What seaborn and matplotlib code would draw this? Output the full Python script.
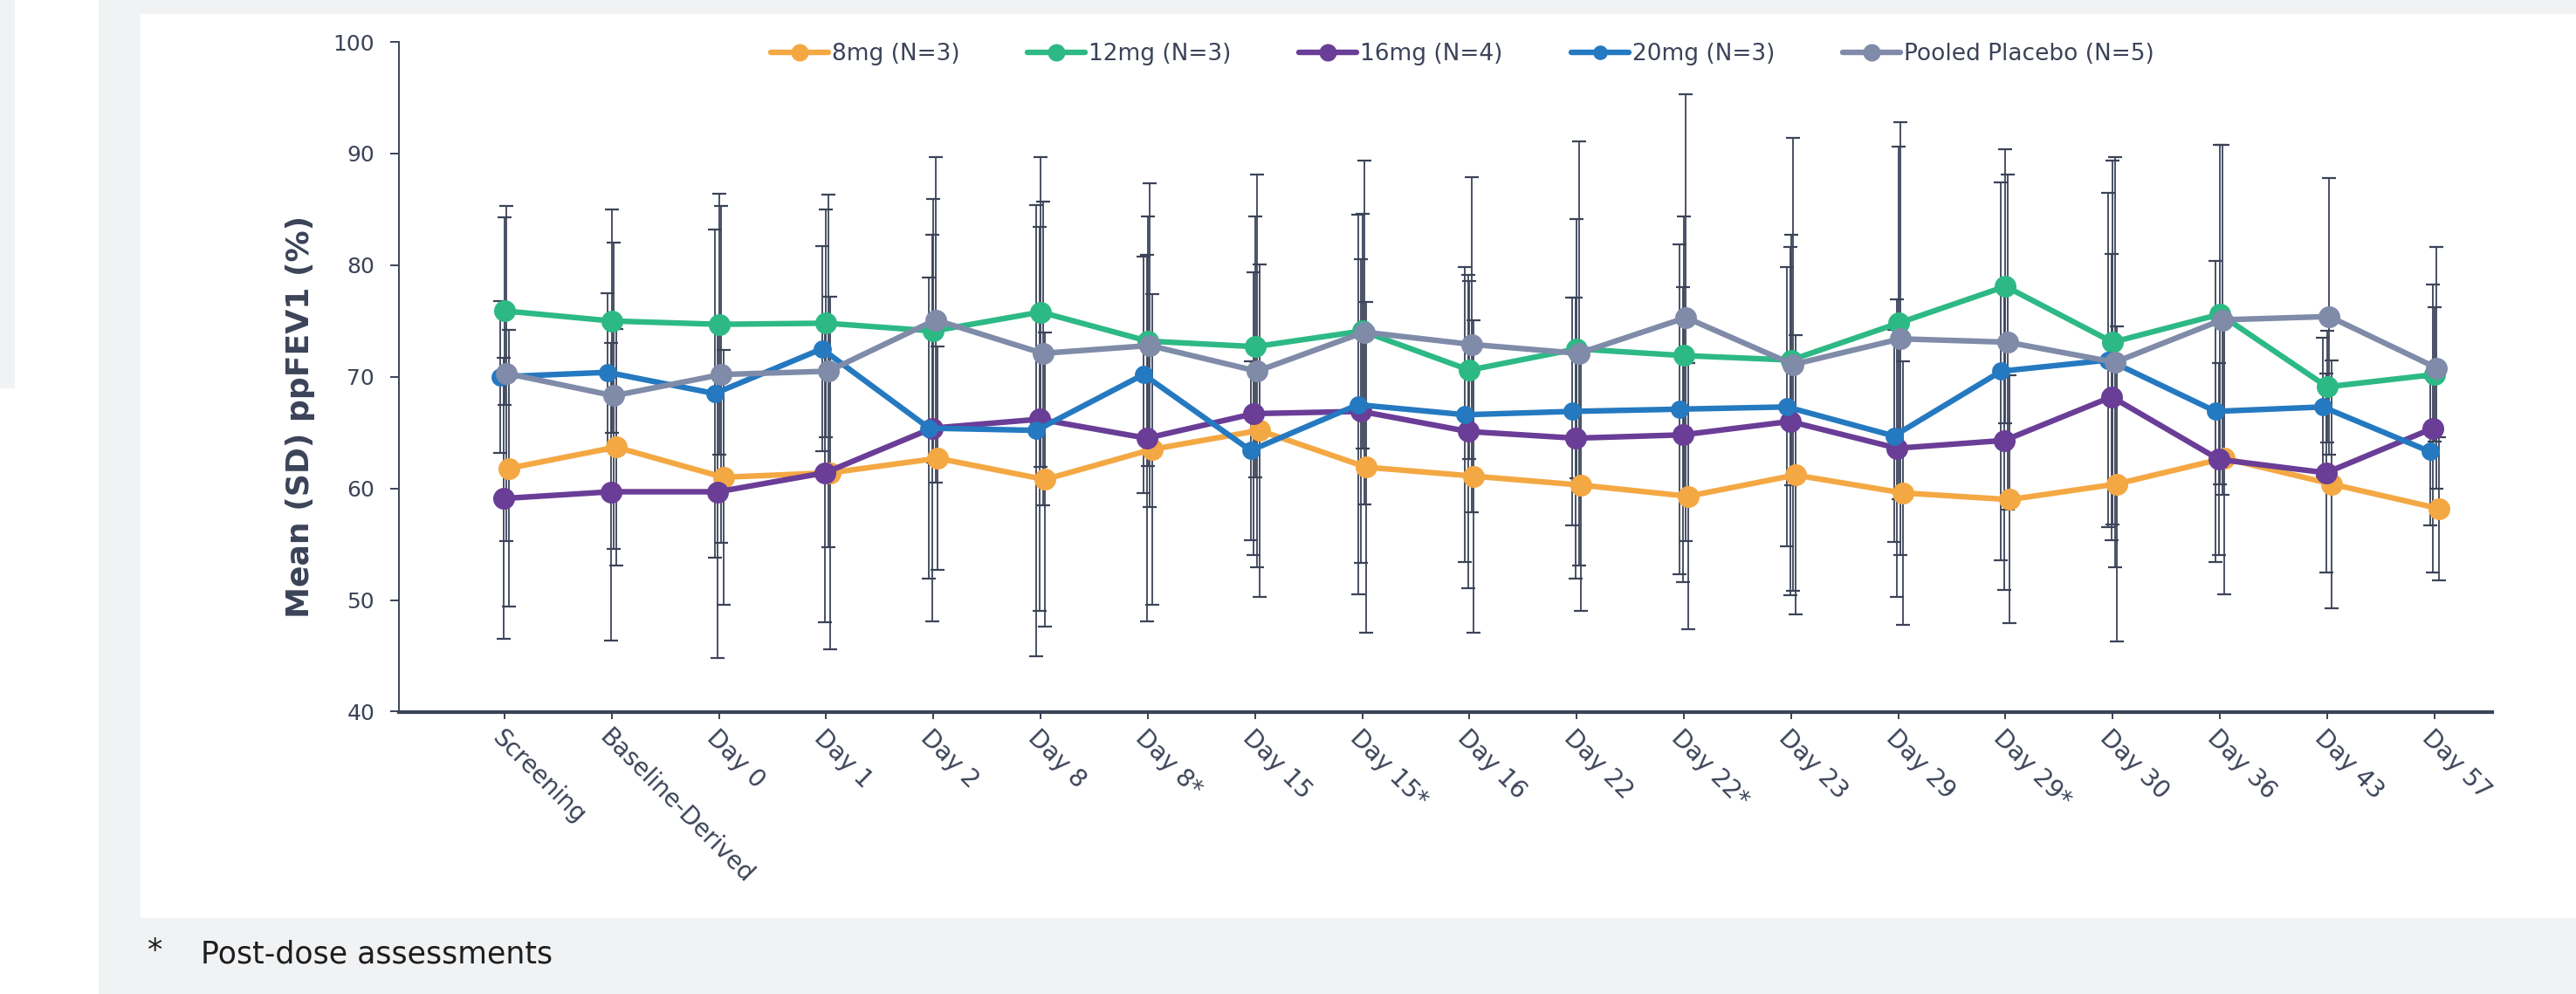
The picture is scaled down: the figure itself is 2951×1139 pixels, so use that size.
import matplotlib
matplotlib.use("Agg")
import matplotlib.pyplot as plt
from matplotlib.patches import Rectangle
import numpy as np
import pandas as pd
import seaborn as sns

# ---- data -----------------------------------------------------------------
categories = ["Screening", "Baseline-Derived", "Day 0", "Day 1", "Day 2", "Day 8",
              "Day 8*", "Day 15", "Day 15*", "Day 16", "Day 22", "Day 22*",
              "Day 23", "Day 29", "Day 29*", "Day 30", "Day 36", "Day 43", "Day 57"]

group_labels = ["8mg (N=3)", "12mg (N=3)", "16mg (N=4)", "20mg (N=3)",
                "Pooled Placebo (N=5)"]

mean_8mg = [61.8, 63.7, 61.0, 61.4, 62.7, 60.8, 63.5, 65.2, 61.9, 61.1,
            60.3, 59.3, 61.2, 59.6, 59.0, 60.4, 62.7, 60.4, 58.2]
sd_8mg = [12.4, 10.6, 11.4, 15.8, 10.0, 13.2, 13.9, 14.9, 14.8, 14.0,
          11.3, 11.9, 12.5, 11.8, 11.1, 14.1, 12.2, 11.1, 6.4]

mean_12mg = [75.9, 75.0, 74.7, 74.8, 74.1, 75.8, 73.2, 72.7, 74.1, 70.6,
             72.5, 71.9, 71.5, 74.8, 78.1, 73.1, 75.6, 69.1, 70.2]
sd_12mg = [8.4, 10.0, 11.7, 10.2, 11.8, 13.9, 11.2, 11.7, 10.5, 8.0,
           11.6, 12.5, 11.2, 15.8, 12.3, 16.3, 15.2, 5.0, 6.0]

mean_16mg = [59.1, 59.7, 59.7, 61.4, 65.4, 66.2, 64.5, 66.7, 66.9, 65.1,
             64.5, 64.8, 66.0, 63.6, 64.3, 68.2, 62.6, 61.4, 65.4]
sd_16mg = [12.6, 13.3, 14.9, 13.4, 17.3, 17.2, 16.4, 12.7, 13.6, 14.0,
           12.6, 13.2, 15.6, 13.3, 13.4, 12.8, 8.6, 8.9, 12.9]

mean_20mg = [70.0, 70.4, 68.5, 72.5, 65.4, 65.2, 70.2, 63.4, 67.5, 66.6,
             66.9, 67.1, 67.3, 64.7, 70.5, 71.5, 66.9, 67.3, 63.3]
sd_20mg = [6.8, 7.1, 14.7, 9.2, 13.5, 20.2, 10.6, 8.0, 17.0, 13.2,
           10.2, 14.8, 12.5, 9.5, 16.9, 15.0, 13.5, 6.2, 6.6]

mean_pbo = [70.3, 68.3, 70.2, 70.5, 75.1, 72.1, 72.8, 70.5, 74.0, 72.9,
            72.1, 75.3, 71.1, 73.4, 73.1, 71.3, 75.1, 75.4, 70.8]
sd_pbo = [15.0, 13.7, 15.1, 15.8, 14.6, 13.6, 14.5, 17.6, 15.4, 15.0,
          19.0, 20.0, 20.3, 19.4, 15.0, 18.4, 15.7, 12.4, 10.8]

y_ticks = [40, 50, 60, 70, 80, 90, 100]

# ---- styling --------------------------------------------------------------
colors = ["#F4A843", "#2DB986", "#6A3D97", "#2579C0", "#7F8BA8"]
dodge = [0.04, 0.00, -0.01, -0.04, 0.02]
marker_sizes = [18, 18, 18, 15, 18]
ink = "#3B4358"
page_gray = "#F1F2F4"

sns.set_theme(style="white")
plt.rcParams["font.family"] = ["DejaVu Sans"]

W, H = 2951, 1139
fig = plt.figure(figsize=(W / 100, H / 100), dpi=100)
fig.patch.set_facecolor("white")

# page background and white chart panel
fig.patches.append(Rectangle((113 / W, 0), 1 - 113 / W, 1, transform=fig.transFigure,
                             facecolor=page_gray, edgecolor="none", zorder=-10))
fig.patches.append(Rectangle((0, 1 - 445 / H), 17 / W, 445 / H, transform=fig.transFigure,
                             facecolor=page_gray, edgecolor="none", zorder=-10))
fig.patches.append(Rectangle((161 / W, 1 - 1052 / H), 1 - 161 / W, (1052 - 16) / H,
                             transform=fig.transFigure, facecolor="white",
                             edgecolor="none", zorder=-9))

ax = fig.add_axes([457 / W, 1 - 815.5 / H, (2855 - 457) / W, (815.5 - 48) / H])
ax.set_facecolor("none")

means = [mean_8mg, mean_12mg, mean_16mg, mean_20mg, mean_pbo]
sds = [sd_8mg, sd_12mg, sd_16mg, sd_20mg, sd_pbo]

idx = np.arange(len(categories))
frames = []
for lab, m, s, d in zip(group_labels, means, sds, dodge):
    frames.append(pd.DataFrame({"group": lab, "pos": idx + d, "mean": m, "sd": s}))
df = pd.concat(frames, ignore_index=True)

# SD whiskers underneath the series lines
for lab in group_labels:
    sub = df[df["group"] == lab]
    ax.errorbar(sub["pos"], sub["mean"], yerr=sub["sd"], fmt="none",
                ecolor=ink, elinewidth=1.3, capsize=6, capthick=1.6, zorder=1)

for lab, c, ms in zip(group_labels, colors, marker_sizes):
    sub = df[df["group"] == lab]
    sns.lineplot(data=sub, x="pos", y="mean", ax=ax, color=c, linewidth=4.6,
                 marker="o", markersize=ms, markeredgewidth=0, sort=False,
                 estimator=None, label=lab, zorder=3)

ax.set_xlim(-0.985, 18.54)
ax.set_ylim(40, 100)
ax.set_yticks(y_ticks)
ax.set_yticklabels([str(v) for v in y_ticks], fontsize=18, color=ink)
ax.set_xticks(idx)
ax.set_xticklabels(categories, rotation=-45, ha="left", va="top",
                   rotation_mode="anchor", fontsize=20, color=ink)
ax.tick_params(axis="y", direction="out", length=7, width=1.4, color=ink, pad=13, left=True)
ax.tick_params(axis="x", direction="out", length=6, width=1.4, color=ink, pad=5, bottom=True)

for side in ["top", "right"]:
    ax.spines[side].set_visible(False)
ax.spines["left"].set_color(ink)
ax.spines["left"].set_linewidth(1.4)
ax.spines["bottom"].set_color(ink)
ax.spines["bottom"].set_linewidth(3.0)
ax.grid(False)

ax.set_xlabel("")
ax.set_ylabel("Mean (SD) ppFEV1 (%)", fontsize=26, fontweight="bold", color=ink)
ax.yaxis.set_label_coords(-0.040, 0.44)

leg = ax.legend(loc="center", bbox_to_anchor=(0.508, 0.982), ncol=5, frameon=False,
                fontsize=19, handlelength=2.5, handletextpad=0.15, columnspacing=2.95,
                markerscale=0.8)
for t in leg.get_texts():
    t.set_color(ink)

fig.text(169 / W, 1 - 1090 / H, "*", fontsize=25, color="#1E1E1E", va="center", ha="left")
fig.text(230 / W, 1 - 1094 / H, "Post-dose assessments", fontsize=25, color="#1E1E1E",
         va="center", ha="left")

fig.savefig("out.png", dpi=100)
